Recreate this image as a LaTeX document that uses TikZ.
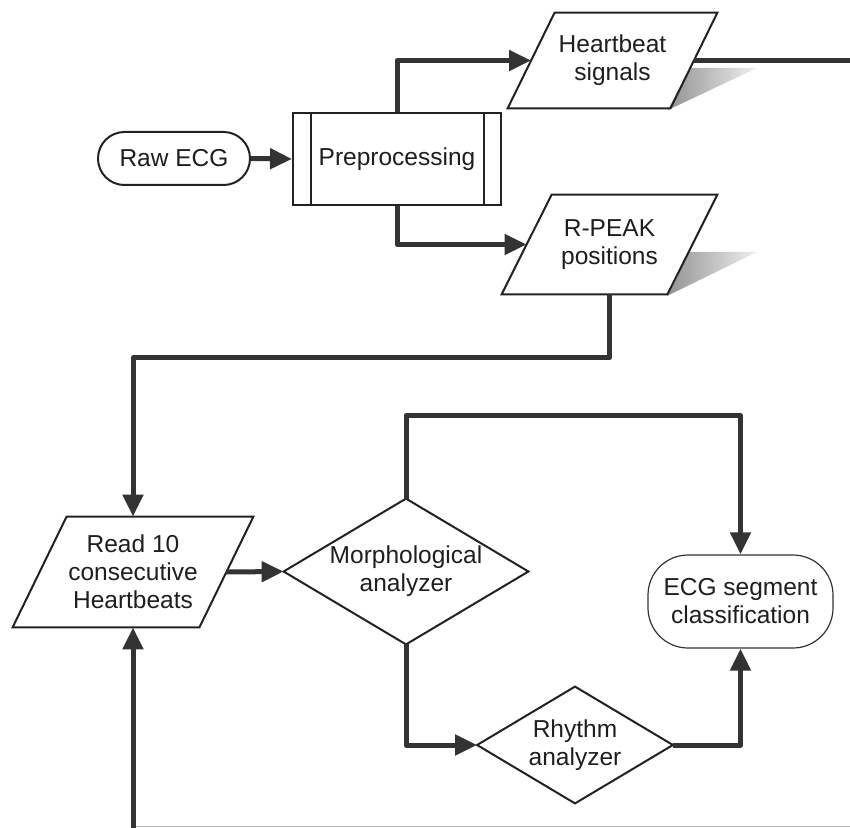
\documentclass[tikz,border=0pt]{standalone}
\usepackage{fontspec}
\setmainfont{Liberation Sans}
\usetikzlibrary{arrows.meta,calc}
\definecolor{ln}{HTML}{333333}
\definecolor{bd}{HTML}{222222}
\definecolor{txt}{HTML}{1E1E1E}
\newcommand\drawpara[2]{\draw[shapeline] ([xshift=#2]#1.north west) -- ([xshift=#2]#1.north east) -- ([xshift=-#2]#1.south east) -- ([xshift=-#2]#1.south west) -- cycle;}
\newcommand\drawdiam[1]{\draw[shapeline] (#1.north) -- (#1.east) -- (#1.south) -- (#1.west) -- cycle;}
\begin{document}
\begin{tikzpicture}[x=0.5pt,y=-0.5pt,
  every node/.style={font=\fontsize{12.25}{14}\selectfont, align=center, inner sep=0pt, text=txt},
  shapeline/.style={draw=bd, line width=1pt, line join=miter},
  conn/.style={draw=ln, line width=2.5pt, line join=round, -{Triangle[length=11pt,width=10pt]}},
  connplain/.style={draw=ln, line width=2.5pt, line join=round},
  terminal/.style={rectangle, draw=bd, line width=1pt, rounded corners=13.2pt},
  procbox/.style={rectangle, draw=bd, line width=1pt},
  databox/.style={rectangle},
  decbox/.style={rectangle},
  endbox/.style={rectangle, draw=ln, line width=0.6pt, rounded corners=20pt},
  shadowfill/.style={left color=gray!85, right color=gray!12, draw=none}
]
\useasboundingbox (0,0) rectangle (850,828);

% shadows
\path[shadowfill] (690,68) -- (757,68) -- (668,110) -- cycle;
\path[shadowfill] (689,252) -- (757,252) -- (667,296) -- cycle;

% nodes
\node[terminal, minimum width=76pt, minimum height=26.5pt] (raw) at (174,158.5) {Raw ECG};
\node[procbox, minimum width=104pt, minimum height=46pt] (pre) at (397,159) {Preprocessing};
\draw[shapeline] ([xshift=9.5pt]pre.north west) -- ([xshift=9.5pt]pre.south west);
\draw[shapeline] ([xshift=-9pt]pre.north east) -- ([xshift=-9pt]pre.south east);

\node[databox, minimum width=81pt, minimum height=47.5pt] (hb) at (612.5,60.5) {Heartbeat\\signals};
\drawpara{hb}{11.75pt}
\node[databox, minimum width=82.5pt, minimum height=49.5pt] (rp) at (609.5,244.5) {R-PEAK\\positions};
\drawpara{rp}{12.5pt}
\node[databox, minimum width=93pt, minimum height=55pt] (rd) at (133,572) {Read 10\\consecutive\\Heartbeats};
\drawpara{rd}{13.5pt}

\node[decbox, minimum width=122pt, minimum height=72.5pt] (mo) at (406,571.5) {Morphological\\analyzer};
\drawdiam{mo}
\node[decbox, minimum width=97.5pt, minimum height=58pt] (rh) at (575,745) {Rhythm\\analyzer};
\drawdiam{rh}

\node[endbox, minimum width=92.5pt, minimum height=46.5pt] (ecg) at (740.5,601.5) {ECG segment\\classification};

\coordinate (rightend) at (850,60.5);
\coordinate (bot) at (133,828);
\coordinate (botr) at (850,826.5);

% connectors
\draw[conn] (raw.east) -- (pre.west);
\draw[conn] (pre.north) |- (hb.west);
\draw[conn] (pre.south) |- (rp.west);
\draw[connplain] (hb.east) -- (rightend);
\draw[conn] (rp.south) -- ++(0,63.5) -| (rd.north);
\draw[conn] (rd.east) -- (mo.west);
\draw[conn] (mo.north) -- ++(0,-83) -| (ecg.north);
\draw[conn] (mo.south) |- (rh.west);
\draw[conn] (rh.east) -| (ecg.south);
\draw[draw=gray!55, line width=0.7pt] (bot |- botr) -- (botr);
\draw[conn] (bot) -- (rd.south);
\end{tikzpicture}
\end{document}
